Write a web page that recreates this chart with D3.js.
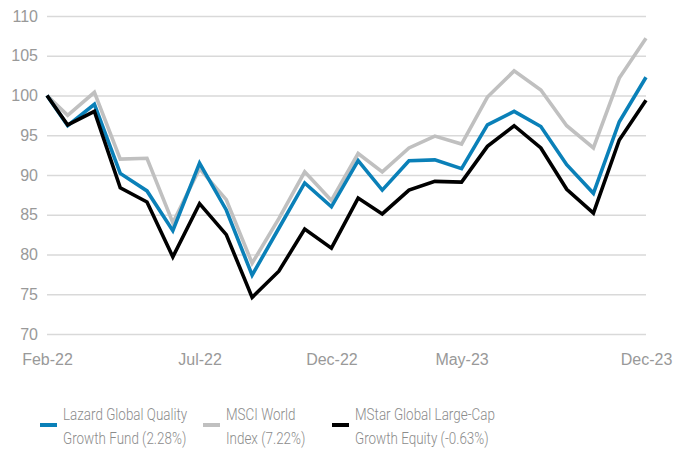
<!DOCTYPE html>
<html><head><meta charset="utf-8">
<script src="https://cdn.jsdelivr.net/npm/d3@7"></script>
<style>body{margin:0;background:#fff}svg{display:block}</style>
</head><body>
<svg id="c" width="676" height="452"></svg>
<script>
const dates = ["2022-02-04","2022-02-28","2022-03-31","2022-04-30","2022-05-31","2022-06-30","2022-07-31","2022-08-31","2022-09-30","2022-10-31","2022-11-30","2022-12-31","2023-01-31","2023-02-28","2023-03-31","2023-04-30","2023-05-31","2023-06-30","2023-07-31","2023-08-31","2023-09-30","2023-10-31","2023-11-30","2023-12-31"];
const lazard = [100,96.2,98.9,90.2,88.0,83.0,91.5,85.6,77.4,83.3,89.0,86.0,91.8,88.1,91.8,91.9,90.8,96.3,98.0,96.1,91.3,87.7,96.7,102.3];
const msci   = [100,97.5,100.4,92.0,92.1,84.0,90.8,86.9,78.9,84.5,90.4,86.8,92.7,90.4,93.4,94.9,93.9,99.8,103.1,100.7,96.2,93.4,102.2,107.2];
const mstar  = [100,96.3,98.0,88.4,86.6,79.7,86.4,82.5,74.6,77.9,83.2,80.8,87.1,85.1,88.1,89.2,89.1,93.6,96.2,93.4,88.2,85.2,94.4,99.4];
const yTicks = [70,75,80,85,90,95,100,105,110];
const xTickDates = ["2022-02-04","2022-07-31","2022-12-31","2023-05-31","2023-12-31"];
const xTickLabels = ["Feb-22","Jul-22","Dec-22","May-23","Dec-23"];
const seriesNames = ["Lazard Global Quality|Growth Fund (2.28%)","MSCI World|Index (7.22%)","MStar Global Large-Cap|Growth Equity (-0.63%)"];
const colors = ["#0a80b8","#c0c0c0","#000000"];

const parse = d3.timeParse("%Y-%m-%d");
const svg = d3.select("#c");
const font = "'Liberation Sans', Arial, sans-serif";
const x = d3.scaleTime().domain([parse(dates[0]), parse(dates[dates.length-1])]).range([47,646]);
const y = d3.scaleLinear().domain([70,110]).range([334,16]);

const yAxis = svg.append("g").attr("transform","translate(47,0)")
  .call(d3.axisLeft(y).tickValues(yTicks).tickSize(-599).tickFormat(d3.format("d")).tickPadding(9));
yAxis.select(".domain").remove();
yAxis.selectAll(".tick line").attr("stroke","#d9d9d9").attr("stroke-width",1.6);
yAxis.selectAll(".tick text").attr("fill","#999").style("font-family",font).style("font-size","16px");

const xAxis = svg.append("g").attr("transform","translate(0,334)")
  .call(d3.axisBottom(x).tickValues(xTickDates.map(parse)).tickSize(0).tickPadding(20)
    .tickFormat((d,i)=>xTickLabels[i]));
xAxis.select(".domain").remove();
xAxis.selectAll(".tick text").attr("fill","#999").style("font-family",font).style("font-size","16px");

const line = d3.line().x((d,i)=>x(parse(dates[i]))).y(d=>y(d));
[msci, lazard, mstar].forEach((s,k)=>{
  const c = [colors[1],colors[0],colors[2]][k];
  svg.append("path").datum(s).attr("d",line).attr("fill","none")
    .attr("stroke",c).attr("stroke-width",3.6).attr("stroke-linejoin","miter");
});

const legX = [40,203,332];
seriesNames.forEach((n,i)=>{
  const g = svg.append("g").attr("transform",`translate(${legX[i]},0)`);
  g.append("rect").attr("x",0).attr("y",423).attr("width",17).attr("height",4).attr("fill",colors[i]);
  const parts = n.split("|");
  parts.forEach((p,j)=>{
    g.append("text").attr("transform",`translate(23,${420+j*24}) scale(0.84,1)`).text(p)
      .attr("fill","#8c8c8c").style("font-family","Roboto, sans-serif").style("font-weight","300").style("font-size","16px");
  });
});
</script>
</body></html>
